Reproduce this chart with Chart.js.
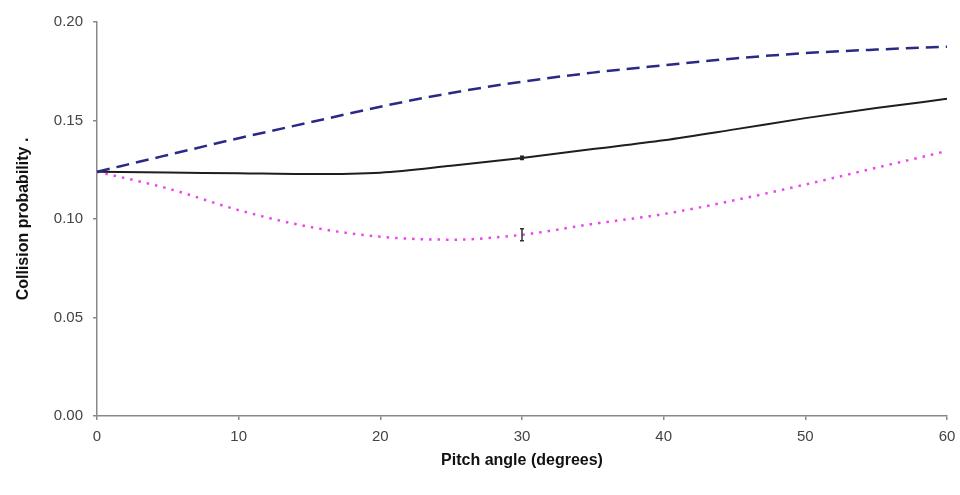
<!DOCTYPE html>
<html>
<head>
<meta charset="utf-8">
<script src="https://cdn.jsdelivr.net/npm/chart.js@4.4.0/dist/chart.umd.min.js"></script>
<style>
html,body{margin:0;padding:0;background:#fff;}
#wrap{width:960px;height:495px;}
</style>
</head>
<body>
<div id="wrap"><canvas id="c" width="960" height="495"></canvas></div>
<script>
const pitchAngles = [0, 5, 10, 15, 20, 25, 30, 35, 40, 45, 50, 55, 60];
const upperSeries = [0.124, 0.1325, 0.141, 0.149, 0.157, 0.164, 0.1697, 0.1743, 0.178, 0.1815, 0.1842, 0.186, 0.1875];
const middleSeries = [0.124, 0.1236, 0.1232, 0.1228, 0.1235, 0.127, 0.131, 0.1355, 0.140, 0.1455, 0.1512, 0.1563, 0.161];
const lowerSeries = [0.124, 0.1155, 0.1045, 0.096, 0.091, 0.0895, 0.092, 0.0975, 0.1025, 0.1095, 0.1175, 0.126, 0.1345];
const xTicks = [0, 10, 20, 30, 40, 50, 60];
const yTicks = [0.00, 0.05, 0.10, 0.15, 0.20];
// error bars at 30 degrees: [x, low, high]
const middleError = [30, 0.1302, 0.1318];
const lowerError = [30, 0.089, 0.095];

const toXY = (ys) => pitchAngles.map((x, i) => ({x: x, y: ys[i]}));

const errorBarPlugin = {
  id: 'errorBars',
  afterDatasetsDraw(chart) {
    const ctx = chart.ctx, xs = chart.scales.x, ys = chart.scales.y;
    const bars = [[middleError, '#222'], [lowerError, '#333']];
    ctx.save();
    bars.forEach(([e, col]) => {
      const px = xs.getPixelForValue(e[0]);
      const y1 = ys.getPixelForValue(e[1]);
      const y2 = ys.getPixelForValue(e[2]);
      ctx.strokeStyle = col;
      ctx.lineWidth = 1.5;
      ctx.beginPath();
      ctx.moveTo(px, y1); ctx.lineTo(px, y2);
      ctx.moveTo(px - 2, y1); ctx.lineTo(px + 2, y1);
      ctx.moveTo(px - 2, y2); ctx.lineTo(px + 2, y2);
      ctx.stroke();
    });
    ctx.restore();
  }
};

new Chart(document.getElementById('c'), {
  type: 'line',
  data: {
    datasets: [
      {data: toXY(upperSeries), borderColor: '#2a2a86', borderWidth: 2.5, borderDash: [13, 7], pointRadius: 0, cubicInterpolationMode: 'monotone', fill: false},
      {data: toXY(middleSeries), borderColor: '#1e1e1e', borderWidth: 2, pointRadius: 0, cubicInterpolationMode: 'monotone', fill: false},
      {data: toXY(lowerSeries), borderColor: '#ee44ee', borderWidth: 2.5, borderDash: [2.5, 6], pointRadius: 0, cubicInterpolationMode: 'monotone', fill: false}
    ]
  },
  options: {
    responsive: false,
    animation: false,
    events: [],
    layout: {padding: {left: 14, right: 13, top: 22, bottom: 25}},
    plugins: {legend: {display: false}, tooltip: {enabled: false}},
    scales: {
      x: {
        type: 'linear', min: 0, max: 60,
        afterBuildTicks: s => { s.ticks = xTicks.map(v => ({value: v})); },
        afterFit: s => { s.height = 54; s.paddingLeft = 0; s.paddingRight = 0; },
        grid: {display: true, drawOnChartArea: false, drawTicks: true, tickLength: 4, color: '#888', lineWidth: 1.5},
        border: {color: '#888', width: 1.5},
        ticks: {color: '#444', font: {family: 'Liberation Sans', size: 15}, padding: 8, maxRotation: 0},
        title: {display: true, text: 'Pitch angle (degrees)', color: '#111', font: {family: 'Liberation Sans', size: 16, weight: 'bold'}, padding: 0}
      },
      y: {
        min: 0, max: 0.2,
        afterBuildTicks: s => { s.ticks = yTicks.map(v => ({value: v})); },
        afterFit: s => { s.width = 83; s.paddingTop = 0; s.paddingBottom = 0; },
        grid: {display: true, drawOnChartArea: false, drawTicks: true, tickLength: 4, color: '#888', lineWidth: 1.5},
        border: {color: '#888', width: 1.5},
        ticks: {color: '#444', font: {family: 'Liberation Sans', size: 15}, padding: 10, callback: v => v.toFixed(2)},
        title: {display: true, text: 'Collision probability .', color: '#111', font: {family: 'Liberation Sans', size: 16, weight: 'bold'}, padding: 0}
      }
    }
  },
  plugins: [errorBarPlugin]
});
</script>
</body>
</html>
